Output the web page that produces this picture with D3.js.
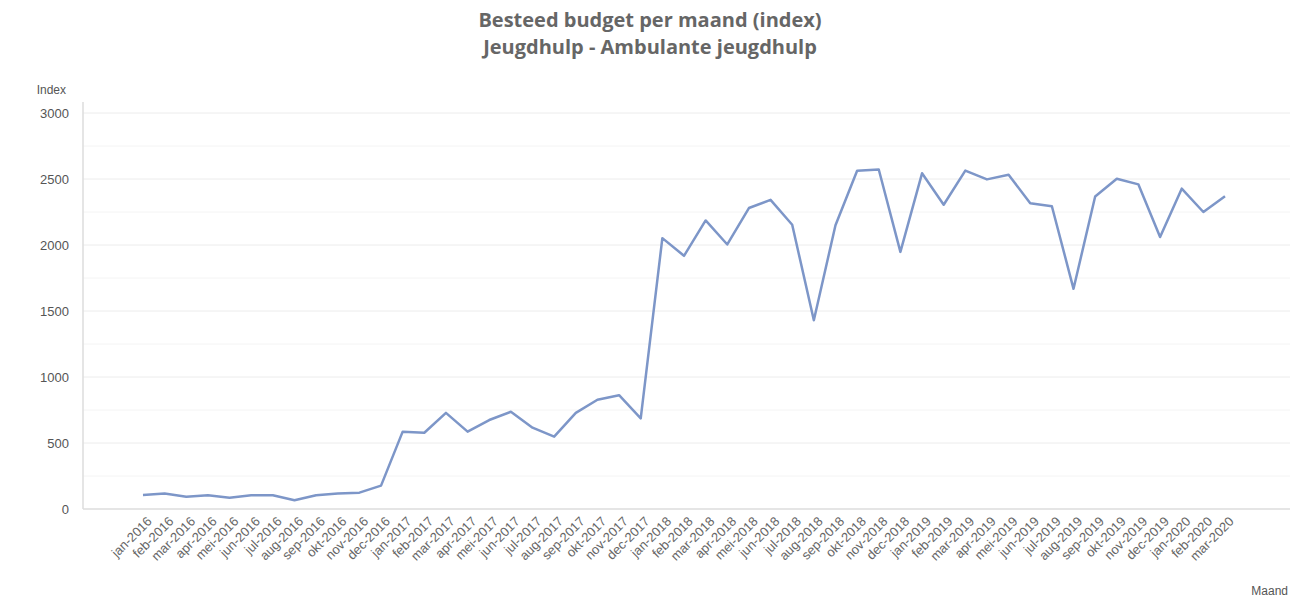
<!DOCTYPE html>
<html>
<head>
<meta charset="utf-8">
<script src="https://cdn.jsdelivr.net/npm/d3@7"></script>
<style>
  html, body { margin: 0; padding: 0; background: #fff; }
  svg { display: block; }
</style>
</head>
<body>
<svg id="chart" width="1296" height="598"></svg>
<script>
const titleLines = ["Besteed budget per maand (index)", "Jeugdhulp - Ambulante jeugdhulp"];
const yAxisLabel = "Index";
const xAxisLabel = "Maand";

const months = [
  "jan-2016","feb-2016","mar-2016","apr-2016","mei-2016","jun-2016","jul-2016","aug-2016","sep-2016","okt-2016","nov-2016","dec-2016",
  "jan-2017","feb-2017","mar-2017","apr-2017","mei-2017","jun-2017","jul-2017","aug-2017","sep-2017","okt-2017","nov-2017","dec-2017",
  "jan-2018","feb-2018","mar-2018","apr-2018","mei-2018","jun-2018","jul-2018","aug-2018","sep-2018","okt-2018","nov-2018","dec-2018",
  "jan-2019","feb-2019","mar-2019","apr-2019","mei-2019","jun-2019","jul-2019","aug-2019","sep-2019","okt-2019","nov-2019","dec-2019",
  "jan-2020","feb-2020","mar-2020"
];
const indexValues = [
  106, 117, 93, 104, 86, 104, 104, 66, 104, 117, 124, 177,
  586, 578, 728, 586, 674, 737, 616, 548, 728, 828, 862, 687,
  2052, 1918, 2186, 2004, 2280, 2342, 2153, 1430, 2150, 2563, 2572, 1948,
  2543, 2305, 2564, 2497, 2532, 2316, 2294, 1668, 2368, 2502, 2459, 2060,
  2427, 2250, 2370
];
const yTicks = [0, 500, 1000, 1500, 2000, 2500, 3000];
const yMinorTicks = [250, 750, 1250, 1750, 2250, 2750];

const svg = d3.select("#chart");
const plot = { left: 83, right: 1290, top: 102, bottom: 509 };

const x = d3.scalePoint().domain(months).range([143, 1225]);
const y = d3.scaleLinear().domain([0, 3000]).range([509, 113]);

// minor grid
svg.append("g").selectAll("line").data(yMinorTicks).join("line")
  .attr("x1", plot.left).attr("x2", plot.right)
  .attr("y1", d => y(d)).attr("y2", d => y(d))
  .attr("stroke", "#f4f4f4").attr("stroke-width", 1);

// major grid
svg.append("g").selectAll("line").data(yTicks.filter(d => d > 0)).join("line")
  .attr("x1", plot.left).attr("x2", plot.right)
  .attr("y1", d => y(d)).attr("y2", d => y(d))
  .attr("stroke", "#ececec").attr("stroke-width", 1);

// y axis
const yAxis = d3.axisLeft(y).tickValues(yTicks).tickFormat(d3.format("d")).tickSize(0).tickPadding(14);
const gy = svg.append("g").attr("transform", `translate(${plot.left},0)`).call(yAxis);
gy.select(".domain").remove();
gy.selectAll("text").attr("font-family", "Liberation Sans, Arial, sans-serif")
  .attr("font-size", 13).attr("fill", "#555");
svg.append("line").attr("x1", plot.left).attr("x2", plot.left)
  .attr("y1", plot.top).attr("y2", plot.bottom)
  .attr("stroke", "#dcdcdc").attr("stroke-width", 1.5);

// x axis
const xAxis = d3.axisBottom(x).tickSize(0).tickPadding(0);
const gx = svg.append("g").attr("transform", `translate(0,${plot.bottom})`).call(xAxis);
gx.select(".domain").remove();
gx.selectAll("text")
  .attr("font-family", "Liberation Sans, Arial, sans-serif")
  .attr("font-size", 13).attr("fill", "#666")
  .attr("text-anchor", "end")
  .attr("dy", "0.35em")
  .attr("transform", "translate(6,10) rotate(-45)");
svg.append("line").attr("x1", plot.left).attr("x2", plot.right)
  .attr("y1", plot.bottom).attr("y2", plot.bottom)
  .attr("stroke", "#dcdcdc").attr("stroke-width", 1.5);

// line
const line = d3.line().x((d, i) => x(months[i])).y(d => y(d));
svg.append("path").datum(indexValues)
  .attr("d", line)
  .attr("fill", "none")
  .attr("stroke", "#7d96c8")
  .attr("stroke-width", 2.5)
  .attr("stroke-linejoin", "round");

// titles
svg.append("g").selectAll("text").data(titleLines).join("text")
  .attr("x", 650).attr("y", (d, i) => 27 + i * 27)
  .attr("text-anchor", "middle")
  .attr("font-family", "Open Sans, sans-serif")
  .attr("font-weight", 700)
  .attr("font-size", 20)
  .attr("fill", "#666")
  .text(d => d);

svg.append("text").attr("x", 66).attr("y", 94).attr("text-anchor", "end")
  .attr("font-family", "Liberation Sans, Arial, sans-serif").attr("font-size", 12)
  .attr("fill", "#555").text(yAxisLabel);
svg.append("text").attr("x", 1288).attr("y", 595).attr("text-anchor", "end")
  .attr("font-family", "Liberation Sans, Arial, sans-serif").attr("font-size", 12)
  .attr("fill", "#555").text(xAxisLabel);
</script>
</body>
</html>
